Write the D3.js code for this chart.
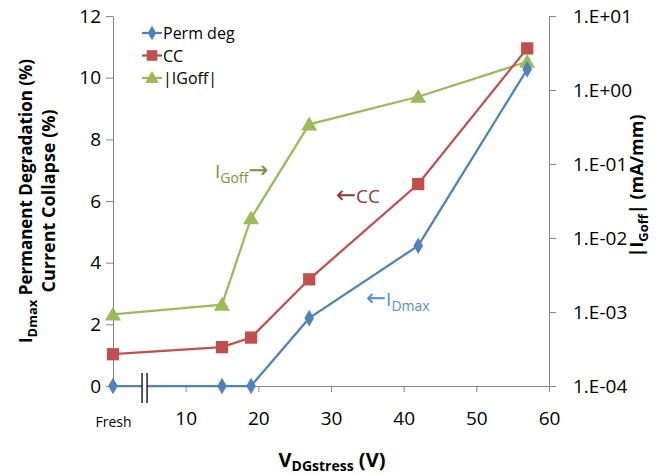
<!DOCTYPE html>
<html>
<head>
<meta charset="utf-8">
<script src="https://cdn.jsdelivr.net/npm/d3@7"></script>
<style>
  body { margin: 0; background: #fff; }
  svg text { font-family: "Open Sans", "Noto Sans", sans-serif; }
</style>
</head>
<body>
<div id="chart"></div>
<script>
// stress voltage (0 = fresh device)
const stressV = [0, 15, 19, 27, 42, 57];
const permDeg = [0, 0, 0, 2.2, 4.55, 10.27];
const currentCollapse = [1.03, 1.26, 1.57, 3.46, 6.55, 10.95];
const iGoff = [9.3e-4, 1.26e-3, 0.0185, 0.344, 0.81, 2.41];
const xTicks = [0, 10, 20, 30, 40, 50, 60];
const yTicks = [0, 2, 4, 6, 8, 10, 12];
const logTicks = [1e-4, 1e-3, 1e-2, 1e-1, 1, 10];

const width = 662, height = 475;
const margin = {top: 16, right: 113, bottom: 89, left: 113};

const svg = d3.select("#chart").append("svg")
    .attr("width", width)
    .attr("height", height);

const x = d3.scaleLinear().domain([0, 60]).range([margin.left, width - margin.right]);
const y = d3.scaleLinear().domain([0, 12]).range([height - margin.bottom, margin.top]);
const yLog = d3.scaleLog().domain([1e-4, 10]).range([height - margin.bottom, margin.top]);

const axisColor = "#868686";

// axes
const xAxis = svg.append("g")
    .attr("transform", `translate(0,${y(0)})`)
    .call(d3.axisBottom(x).tickValues(xTicks).tickSize(6).tickSizeOuter(0)
        .tickFormat(d => d === 0 ? "Fresh" : d));
const yAxis = svg.append("g")
    .attr("transform", `translate(${x(0)},0)`)
    .call(d3.axisLeft(y).tickValues(yTicks).tickSize(7).tickSizeOuter(0));
const yAxisR = svg.append("g")
    .attr("transform", `translate(${x(60)},0)`)
    .call(d3.axisRight(yLog).tickValues(logTicks).tickSize(7).tickSizeOuter(0)
        .tickFormat(d => "1.E" + (Math.log10(d) >= 0 ? "+" : "-") + String(Math.abs(Math.round(Math.log10(d)))).padStart(2, "0")));

[xAxis, yAxis, yAxisR].forEach(a => {
    a.select(".domain").attr("stroke", axisColor).attr("stroke-width", 1);
    a.selectAll(".tick line").attr("stroke", axisColor);
    a.selectAll(".tick text").attr("fill", "#000").style("font-size", "19px");
});
// "Fresh" is smaller and sits a bit lower; no tick mark under it
xAxis.selectAll(".tick text")
    .style("font-size", d => d === 0 ? "14px" : "19px")
    .attr("dy", d => d === 0 ? "2.3em" : "1.6em");
xAxis.selectAll(".tick line").attr("y2", d => d === 0 ? 0 : 6);
yAxis.selectAll(".tick text").attr("x", -12);
yAxisR.selectAll(".tick text").attr("x", 24);

// series
const series = [
    {name: "Perm deg", values: permDeg, scale: y, color: "#4F81BD", symbol: d3.symbolDiamond, size: 80},
    {name: "CC", values: currentCollapse, scale: y, color: "#C0504D", symbol: d3.symbolSquare, size: 150},
    {name: "|IGoff|", values: iGoff, scale: yLog, color: "#9BBB59", symbol: d3.symbolTriangle, size: 110}
];

series.slice().reverse().forEach(s => {
    const pts = stressV.map((v, i) => [x(v), s.scale(s.values[i])]);
    svg.append("path")
        .attr("d", d3.line()(pts))
        .attr("fill", "none")
        .attr("stroke", s.color)
        .attr("stroke-width", 2.25);
    svg.append("g").selectAll("path")
        .data(pts)
        .enter()
        .append("path")
        .attr("d", d3.symbol().type(s.symbol).size(s.size))
        .attr("transform", d => `translate(${d[0]},${d[1] + (s.symbol === d3.symbolTriangle ? 1.5 : 0)})`)
        .attr("fill", s.color);
});

// axis break marks
const bx = x(4.0);
svg.append("rect").attr("x", bx).attr("y", y(0) - 3).attr("width", 5).attr("height", 6).attr("fill", "#fff");
[bx, bx + 5].forEach(px => {
    svg.append("line")
        .attr("x1", px).attr("x2", px)
        .attr("y1", y(0) - 13).attr("y2", y(0) + 17)
        .attr("stroke", "#000").attr("stroke-width", 1.3);
});

// legend
const legend = svg.append("g").attr("transform", "translate(142,33)");
series.forEach((s, i) => {
    const g = legend.append("g").attr("transform", `translate(0,${i * 22.5})`);
    g.append("line").attr("x1", 0).attr("x2", 20).attr("stroke", s.color).attr("stroke-width", 2.25);
    g.append("path")
        .attr("d", d3.symbol().type(s.symbol).size(s.size * 0.75))
        .attr("transform", `translate(10,${s.symbol === d3.symbolTriangle ? 1 : 0})`)
        .attr("fill", s.color);
    g.append("text").attr("x", 21).attr("y", 6).style("font-size", "16px").text(s.name);
});

// annotations
function label(px, py, color, parts) {
    const t = svg.append("text").attr("x", px).attr("y", py).attr("fill", color).style("font-size", "19px");
    parts.forEach(p => {
        const ts = t.append("tspan").text(p.text);
        if (p.sub) ts.style("font-size", "14px").attr("dy", 5);
        if (p.up) ts.attr("dy", -5);
        if (p.arrow) ts.style("font-family", "DejaVu Sans").style("font-size", "24px");
    });
    return t;
}
label(215, 178, "#77933C", [{text: "I"}, {text: "Goff", sub: true}, {text: "\u2192", up: true, arrow: true}]);
label(336, 203, "#953735", [{text: "\u2190", arrow: true}, {text: "CC"}]);
label(366, 306, "#558ED5", [{text: "\u2190", arrow: true}, {text: "I"}, {text: "Dmax", sub: true}]);

// axis titles
const leftTitle = svg.append("text")
    .attr("transform", `translate(32,${y(6)}) rotate(-90)`)
    .attr("text-anchor", "middle")
    .style("font-size", "17px").style("font-weight", "bold");
leftTitle.append("tspan").text("I");
leftTitle.append("tspan").text("Dmax").style("font-size", "13px").attr("dy", 5);
leftTitle.append("tspan").text(" Permanent Degradation (%)").attr("dy", -5);
svg.append("text")
    .attr("transform", `translate(55,${y(6)}) rotate(-90)`)
    .attr("text-anchor", "middle")
    .style("font-size", "18px").style("font-weight", "bold")
    .text("Current Collapse (%)");

const rightTitle = svg.append("text")
    .attr("transform", `translate(643,186) rotate(-90)`)
    .attr("text-anchor", "middle")
    .style("font-size", "18px").style("font-weight", "bold");
rightTitle.append("tspan").text("|I");
rightTitle.append("tspan").text("Goff").style("font-size", "13px").attr("dy", 5);
rightTitle.append("tspan").text("| (mA/mm)").attr("dy", -5);

const xTitle = svg.append("text")
    .attr("x", 332).attr("y", 467)
    .attr("text-anchor", "middle")
    .style("font-size", "20px").style("font-weight", "bold");
xTitle.append("tspan").text("V");
xTitle.append("tspan").text("DGstress").style("font-size", "14px").attr("dy", 4);
xTitle.append("tspan").text(" (V)").attr("dy", -4);
</script>
</body>
</html>
